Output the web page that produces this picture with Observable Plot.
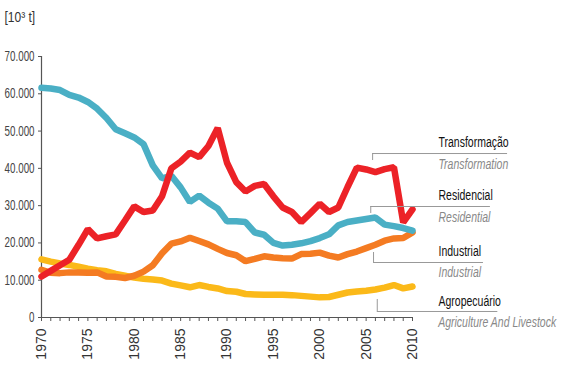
<!DOCTYPE html>
<html><head><meta charset="utf-8">
<script src="https://cdn.jsdelivr.net/npm/d3@7"></script>
<script src="https://cdn.jsdelivr.net/npm/@observablehq/plot@0.6"></script>
<style>
body{margin:0;background:#fff;}
#chart svg{display:block;}
</style></head><body><div id="chart"></div>
<script>
const years = d3.range(1970, 2011);
const transformacao = [11000,12500,14000,15500,19500,23700,21200,21800,22300,26000,29800,28300,28700,32500,40000,41800,44200,43000,46000,50800,41500,36300,33800,35300,35800,32500,29500,28300,25600,28000,30500,28300,29500,35000,40200,39700,39000,39800,40300,25500,29000];
const residencial = [61600,61400,61000,59700,59000,57800,56000,53500,50500,49400,48300,46500,40800,37300,38000,34900,31000,32700,30800,29200,25800,25800,25600,22800,22200,20000,19300,19500,19900,20500,21300,22300,24700,25600,26000,26400,26800,24900,24500,24000,23300];
const industrial = [12800,12000,11900,12100,12100,12000,12100,11000,10900,10600,11200,12300,14000,17200,19800,20400,21400,20500,19600,18400,17300,16700,15100,15700,16400,16100,15900,15800,17000,17100,17400,16600,16100,17000,17700,18600,19500,20600,21200,21300,22800];
const agropecuario = [15600,15000,14500,14100,13600,13100,12700,12400,11700,11200,10700,10400,10200,9900,9100,8600,8100,8700,8200,7800,7100,6900,6300,6200,6100,6100,6100,6000,5800,5600,5400,5500,6100,6700,7000,7200,7500,8000,8700,7800,8300];

const yTicks = [0,10000,20000,30000,40000,50000,60000,70000];
const xLabelTicks = [1970,1975,1980,1985,1990,1995,2000,2005,2010];
const unitLabel = "[10³ t]";

const seriesKeys = ["Agropecuário","Industrial","Residencial","Transformação"];
const seriesColors = ["#fbb919","#f47b22","#4aafc5","#ec2227"];
const seriesValues = [agropecuario, industrial, residencial, transformacao];

// annotation labels (Portuguese / English), anchored in data units
const labelPt = ["Transformação","Residencial","Industrial","Agropecuário"];
const labelEn = ["Transformation","Residential","Industrial","Agriculture And Livestock"];
const labelX = [2012.8,2012.8,2012.8,2012.8];
const labelPtY = [45600,31400,16600,3200];
const labelEnY = [39960,25480,10730,-2680];
const leaderY = [43980,29770,14750,1610];
const leaderX1 = [2005.7,2005.5,2005.8,2006.2];
const leaderX2 = [2020.25,2018.4,2017.65,2019.2];
const leaderTipY = [42100,27900,17430,4830];

const rows = seriesKeys.flatMap((k, s) => years.map((yr, i) => ({year: yr, value: seriesValues[s][i], key: k})));
const ann = labelPt.map((t, i) => ({pt: t, en: labelEn[i], x: labelX[i], yPt: labelPtY[i], yEn: labelEnY[i],
  ly: leaderY[i], lx1: leaderX1[i], lx2: leaderX2[i], tip: leaderTipY[i]}));

const yFmt = d => d3.format(",")(d).replace(/,/g, ".");

const chart = Plot.plot({
  width: 567, height: 378,
  marginLeft: 41, marginRight: 155, marginTop: 56, marginBottom: 61,
  x: {domain: [1970, 2010], label: null},
  y: {domain: [0, 70000], label: null},
  color: {domain: seriesKeys, range: seriesColors},
  style: {fontFamily: "'Liberation Sans',Arial,sans-serif", background: "white", color: "#333"},
  marks: [
    Plot.axisY({ticks: yTicks, tickSize: 3, tickPadding: 4, label: null,
      tickFormat: yFmt, fontSize: 14, stroke: "#555", fill: "#444"}),
    Plot.axisX({ticks: years, tickSize: 4, tickFormat: () => "", label: null, stroke: "#555"}),
    Plot.axisX({ticks: xLabelTicks, tickSize: 0, tickPadding: 11, tickRotate: -90, label: null,
      tickFormat: "d", fontSize: 14, fill: "#333"}),
    Plot.ruleX([1970], {y1: 0, y2: 70000, stroke: "#555", strokeWidth: 1.2}),
    Plot.ruleY([0], {stroke: "#555", strokeWidth: 1.2}),
    Plot.lineY(rows, {x: "year", y: "value", z: "key", stroke: "key", strokeWidth: 6.5, strokeLinejoin: "miter"}),
    Plot.ruleY(ann, {y: "ly", x1: "lx1", x2: "lx2", stroke: "#999", strokeWidth: 1, clip: false}),
    Plot.ruleX(ann, {x: "lx1", y1: "ly", y2: "tip", stroke: "#999", strokeWidth: 1, clip: false}),
    Plot.text(ann, {x: "x", y: "yPt", text: "pt", textAnchor: "start", lineAnchor: "bottom", fontSize: 15, fill: "#111"}),
    Plot.text(ann, {x: "x", y: "yEn", text: "en", textAnchor: "start", lineAnchor: "bottom", fontSize: 15, fill: "#888", fontStyle: "italic"}),
    Plot.text([unitLabel], {frameAnchor: "top-left", dx: -37, dy: -45, lineAnchor: "top", textAnchor: "start", fontSize: 15, fill: "#333"})
  ]
});
document.getElementById("chart").appendChild(chart);

// condense these texts horizontally (the source uses a condensed typeface),
// scaling each one about its own horizontal anchor
const condensed = new Set([...labelPt, ...labelEn, unitLabel, ...yTicks.map(yFmt)]);
d3.select(chart).selectAll("text").each(function() {
  if (!condensed.has(this.textContent)) return;
  const f = this.textContent === unitLabel ? 0.8 : 0.7;
  const b = this.getBBox();
  const anchor = getComputedStyle(this).textAnchor;
  const ax = anchor === "end" ? b.x + b.width : anchor === "middle" ? b.x + b.width / 2 : b.x;
  const t = this.getAttribute("transform") || "";
  this.setAttribute("transform", `${t} translate(${ax},0) scale(${f},1) translate(${-ax},0)`.trim());
});
</script></body></html>
